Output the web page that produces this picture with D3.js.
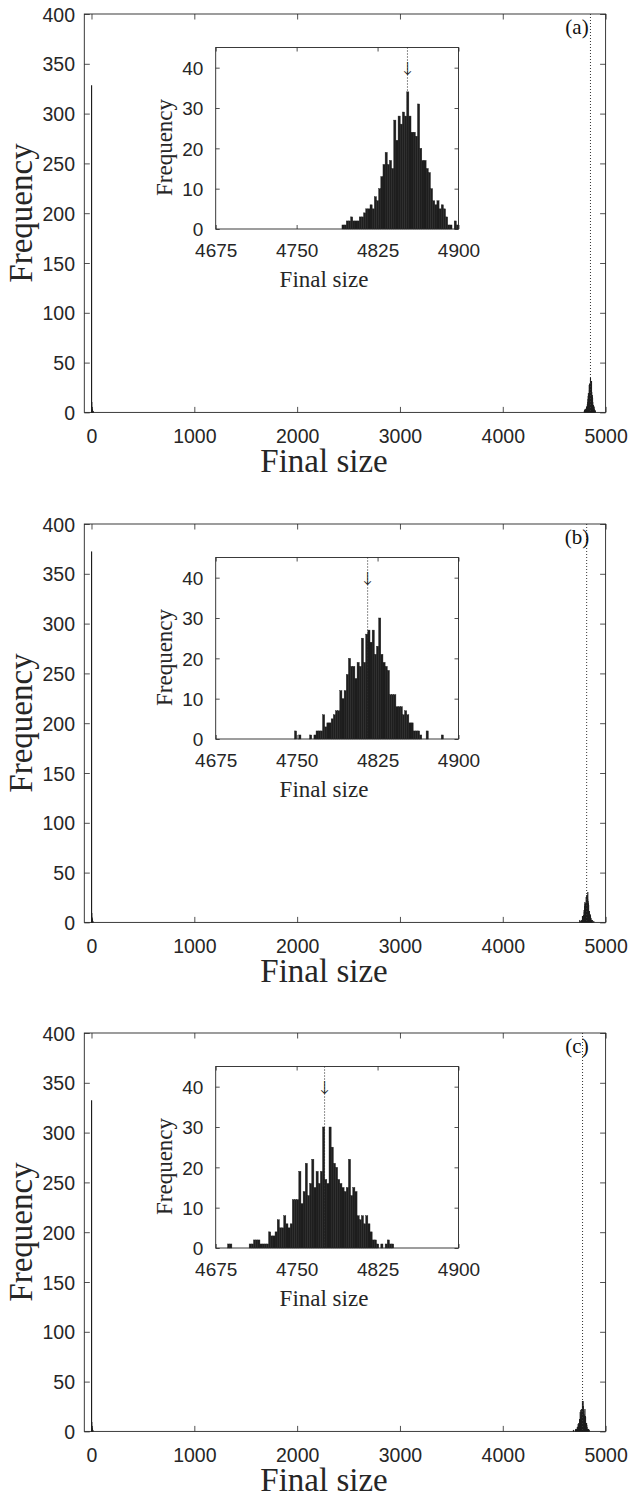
<!DOCTYPE html>
<html>
<head>
<meta charset="utf-8">
<script src="https://cdn.jsdelivr.net/npm/d3@7"></script>
<style>
  body { margin: 0; background: #fff; }
  svg { display: block; }
</style>
</head>
<body>
<svg id="fig" width="630" height="1498"></svg>
<script>
// ---- data: final-size histograms (bin width 2) for three scenarios ----
const binWidth = 2;
const panelLabels = ["(a)", "(b)", "(c)"];
const meanSizes = [4852.7, 4815.8, 4775.9];

// small outbreaks, bins starting at 0
const minorCountsA = [328, 10, 5, 3, 2, 1, 1, 1];
const minorCountsB = [372, 9, 4, 3, 2, 1, 1];
const minorCountsC = [332, 9, 5, 3, 2, 1, 1];

// major outbreaks, first bin edge and counts
const majorStartA = 4792;
const majorCountsA = [1, 1, 2, 2, 3, 2, 2, 2, 3, 3, 4, 5, 5, 6, 5, 8, 7, 10, 13, 16,
  19, 16, 17, 15, 27, 22, 28, 26, 29, 28, 34, 28, 24, 24, 23, 31, 20, 17, 17, 15,
  14, 10, 7, 6, 7, 5, 6, 5, 3, 1, 1, 0, 2, 1];
const majorStartB = 4748;
const majorCountsB = [2, 0, 1, 0, 0, 0, 0, 1, 0, 1, 2, 2, 2, 6, 3, 4, 4, 5, 6, 7,
  7, 12, 10, 12, 16, 20, 18, 18, 15, 19, 18, 25, 19, 26, 27, 24, 27, 21, 23, 30,
  21, 19, 18, 17, 11, 11, 11, 8, 8, 8, 6, 7, 6, 4, 4, 2, 2, 2, 1, 0,
  0, 2, 0, 0, 0, 0, 0, 0, 1];
const majorStartC = 4686;
const majorCountsC = [1, 1, 0, 0, 0, 0, 0, 0, 0, 0, 1, 1, 2, 2, 2, 1, 1, 1, 1, 4,
  3, 3, 4, 7, 5, 5, 8, 6, 5, 6, 12, 12, 12, 19, 11, 14, 21, 13, 16, 22,
  15, 19, 16, 19, 30, 17, 16, 30, 25, 21, 20, 17, 16, 15, 14, 15, 22, 13, 15, 14,
  8, 7, 8, 6, 8, 6, 4, 2, 2, 1, 0, 1, 0, 1, 2, 1, 1];

const mainXTicks = [0, 1000, 2000, 3000, 4000, 5000];
const mainYTicks = [0, 50, 100, 150, 200, 250, 300, 350, 400];
const insetXTicks = [4675, 4750, 4825, 4900];
const insetYTicks = [0, 10, 20, 30, 40];
const mainXDomain = [-70, 5000];
const mainYDomain = [0, 400];
const insetXDomain = [4675, 4900];
const insetYDomain = [0, 45];

const panels = [
  { label: panelLabels[0], mean: meanSizes[0], minor: minorCountsA, start: majorStartA, major: majorCountsA },
  { label: panelLabels[1], mean: meanSizes[1], minor: minorCountsB, start: majorStartB, major: majorCountsB },
  { label: panelLabels[2], mean: meanSizes[2], minor: minorCountsC, start: majorStartC, major: majorCountsC }
];

// ---- layout ----
const panelTops = [14, 524, 1033];
const main = { left: 84.3, right: 605.6, height: 398.4 };
const inset = { left: 215.7, right: 458.5, top: 33.5, bottom: 215 };
const ink = "#262626";
const barFill = "#1e1e1e";
const sans = "'Liberation Sans', Arial, Helvetica, sans-serif";
const serif = "'Liberation Serif', 'Times New Roman', serif";
const fmt = d3.format("d");

const svg = d3.select("#fig");

function toBins(start, counts) {
  return counts.map((c, i) => ({ x0: start + i * binWidth, x1: start + (i + 1) * binWidth, n: c }));
}

function drawFrame(g, x, y, xTicks, yTicks, o) {
  const [xl, xr] = x.range();
  const [yb, yt] = y.range();
  const bottom = g.append("g").attr("transform", `translate(0,${yb})`)
    .call(d3.axisBottom(x).tickValues(xTicks).tickFormat(fmt).tickSizeInner(-o.tick).tickSizeOuter(0).tickPadding(o.xPad));
  const left = g.append("g").attr("transform", `translate(${xl},0)`)
    .call(d3.axisLeft(y).tickValues(yTicks).tickFormat(fmt).tickSizeInner(-o.tick).tickSizeOuter(0).tickPadding(o.yPad));
  const top = g.append("g").attr("transform", `translate(0,${yt})`)
    .call(d3.axisTop(x).tickValues(xTicks).tickSizeInner(-o.tick).tickSizeOuter(0).tickFormat(""));
  const right = g.append("g").attr("transform", `translate(${xr},0)`)
    .call(d3.axisRight(y).tickValues(yTicks).tickSizeInner(-o.tick).tickSizeOuter(0).tickFormat(""));
  [bottom, left, top, right].forEach(a => {
    a.select(".domain").remove();
    a.selectAll(".tick line").attr("stroke", ink).attr("stroke-width", 0.8);
    a.selectAll(".tick text").attr("fill", ink).attr("font-family", sans).attr("font-size", o.font);
  });
  bottom.selectAll(".tick text").attr("dy", "0.72em");
  left.selectAll(".tick text").attr("dy", "0.36em");
  g.append("rect").attr("x", xl).attr("y", yt).attr("width", xr - xl).attr("height", yb - yt)
    .attr("fill", "none").attr("stroke", ink).attr("stroke-width", 0.9);
}

panels.forEach((p, i) => {
  const top = panelTops[i];
  const g = svg.append("g");

  // ---- main histogram ----
  const x = d3.scaleLinear().domain(mainXDomain).range([main.left, main.right]);
  const y = d3.scaleLinear().domain(mainYDomain).range([top + main.height, top]);
  const bins = toBins(0, p.minor).concat(toBins(p.start, p.major)).filter(b => b.n > 0);

  g.append("g").selectAll("rect").data(bins).join("rect")
    .attr("x", d => x(d.x0))
    .attr("width", d => x(d.x1) - x(d.x0))
    .attr("y", d => y(d.n))
    .attr("height", d => y(0) - y(d.n))
    .attr("fill", barFill).attr("stroke", barFill).attr("stroke-width", 0.9);

  g.append("line")
    .attr("x1", x(p.mean)).attr("x2", x(p.mean))
    .attr("y1", y(400)).attr("y2", y(0))
    .attr("stroke", "#333").attr("stroke-width", 1).attr("stroke-dasharray", "1,2");

  drawFrame(g, x, y, mainXTicks, mainYTicks, { tick: 5.5, xPad: 17, yPad: 9.3, font: "19.5px" });

  g.append("text").attr("x", 324).attr("y", top + 457.5)
    .attr("text-anchor", "middle").attr("font-family", serif).attr("font-size", "33px").attr("fill", ink)
    .text("Final size");
  g.append("text").attr("transform", `translate(32,${top + 199}) rotate(-90)`)
    .attr("text-anchor", "middle").attr("font-family", serif).attr("font-size", "33px").attr("fill", ink)
    .text("Frequency");
  g.append("text").attr("x", 577).attr("y", top + 20)
    .attr("text-anchor", "middle").attr("font-family", serif).attr("font-size", "21px").attr("fill", "#111")
    .text(p.label);

  // ---- inset: zoom on the major outbreaks ----
  const ix = d3.scaleLinear().domain(insetXDomain).range([inset.left, inset.right]);
  const iy = d3.scaleLinear().domain(insetYDomain).range([top + inset.bottom, top + inset.top]);
  const ig = g.append("g");
  ig.append("rect").attr("x", inset.left).attr("y", top + inset.top)
    .attr("width", inset.right - inset.left).attr("height", inset.bottom - inset.top).attr("fill", "#fff");

  ig.append("line")
    .attr("x1", ix(p.mean)).attr("x2", ix(p.mean))
    .attr("y1", iy(45)).attr("y2", iy(0))
    .attr("stroke", "#222").attr("stroke-width", 1).attr("stroke-dasharray", "1,2");

  ig.append("g").selectAll("rect").data(toBins(p.start, p.major).filter(b => b.n > 0)).join("rect")
    .attr("x", d => ix(d.x0))
    .attr("width", d => ix(d.x1) - ix(d.x0))
    .attr("y", d => iy(d.n))
    .attr("height", d => iy(0) - iy(d.n))
    .attr("fill", barFill).attr("stroke", barFill).attr("stroke-width", 0.4);

  ig.append("text").attr("x", ix(p.mean)).attr("y", iy(38.1))
    .attr("text-anchor", "middle").attr("font-family", "'DejaVu Sans', sans-serif")
    .attr("font-weight", 200).attr("font-size", "18px").attr("fill", "#222")
    .text("↓");

  drawFrame(ig, ix, iy, insetXTicks, insetYTicks, { tick: 4, xPad: 14, yPad: 12.4, font: "19px" });

  ig.append("text").attr("x", 324).attr("y", top + 273)
    .attr("text-anchor", "middle").attr("font-family", serif).attr("font-size", "23px").attr("fill", ink)
    .text("Final size");
  ig.append("text").attr("transform", `translate(172,${top + 133.5}) rotate(-90)`)
    .attr("text-anchor", "middle").attr("font-family", serif).attr("font-size", "23px").attr("fill", ink)
    .text("Frequency");
});
</script>
</body>
</html>
